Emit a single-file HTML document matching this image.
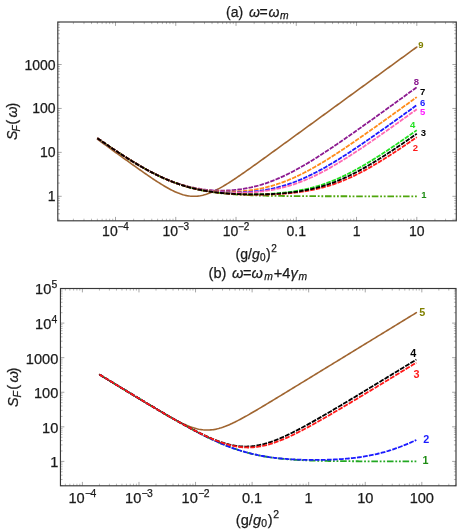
<!DOCTYPE html>
<html><head><meta charset="utf-8"><title>Noise spectrum</title>
<style>html,body{margin:0;padding:0;background:#fff}svg{display:block;will-change:transform}</style></head>
<body>
<svg width="464" height="532" viewBox="0 0 464 532" font-family='"Liberation Sans", Arial, Helvetica, sans-serif'>
<rect width="464" height="532" fill="#fff"/>
<path d="M97.36 139.13L98.70 140.11L100.03 141.08L101.37 142.05L102.71 143.03L104.04 144.00L105.38 144.97L106.72 145.94L108.05 146.91L109.39 147.89L110.73 148.86L112.06 149.83L113.40 150.80L114.74 151.77L116.07 152.74L117.41 153.71L118.75 154.67L120.08 155.64L121.42 156.61L122.75 157.58L124.09 158.54L125.43 159.51L126.76 160.47L128.10 161.43L129.44 162.39L130.77 163.35L132.11 164.31L133.45 165.27L134.78 166.22L136.12 167.17L137.46 168.12L138.79 169.07L140.13 170.01L141.47 170.96L142.80 171.89L144.14 172.83L145.48 173.76L146.81 174.68L148.15 175.60L149.49 176.52L150.82 177.42L152.16 178.33L153.50 179.22L154.83 180.10L156.17 180.98L157.51 181.85L158.84 182.70L160.18 183.54L161.52 184.37L162.85 185.19L164.19 185.99L165.52 186.77L166.86 187.54L168.20 188.28L169.53 189.01L170.87 189.71L172.21 190.38L173.54 191.03L174.88 191.65L176.22 192.24L177.55 192.80L178.89 193.32L180.23 193.81L181.56 194.25L182.90 194.66L184.24 195.03L185.57 195.35L186.91 195.63L188.25 195.86L189.58 196.04L190.92 196.18L192.26 196.26L193.59 196.30L194.93 196.29L196.27 196.22L197.60 196.11L198.94 195.95L200.28 195.74L201.61 195.48L202.95 195.18L204.29 194.84L205.62 194.45L206.96 194.02L208.30 193.55L209.63 193.04L210.97 192.50L212.30 191.93L213.64 191.32L214.98 190.68L216.31 190.02L217.65 189.33L218.99 188.62L220.32 187.88L221.66 187.13L223.00 186.35L224.33 185.56L225.67 184.75L227.01 183.93L228.34 183.09L229.68 182.24L231.02 181.38L232.35 180.51L233.69 179.63L235.03 178.74L236.36 177.84L237.70 176.93L239.04 176.02L240.37 175.11L241.71 174.18L243.05 173.26L244.38 172.32L245.72 171.39L247.06 170.45L248.39 169.50L249.73 168.56L251.07 167.61L252.40 166.66L253.74 165.71L255.08 164.75L256.41 163.79L257.75 162.83L259.08 161.87L260.42 160.91L261.76 159.95L263.09 158.98L264.43 158.02L265.77 157.05L267.10 156.09L268.44 155.12L269.78 154.15L271.11 153.18L272.45 152.21L273.79 151.24L275.12 150.27L276.46 149.30L277.80 148.33L279.13 147.36L280.47 146.39L281.81 145.42L283.14 144.44L284.48 143.47L285.82 142.50L287.15 141.53L288.49 140.55L289.83 139.58L291.16 138.61L292.50 137.63L293.84 136.66L295.17 135.69L296.51 134.71L297.85 133.74L299.18 132.77L300.52 131.79L301.86 130.82L303.19 129.85L304.53 128.87L305.86 127.90L307.20 126.92L308.54 125.95L309.87 124.98L311.21 124.00L312.55 123.03L313.88 122.05L315.22 121.08L316.56 120.10L317.89 119.13L319.23 118.16L320.57 117.18L321.90 116.21L323.24 115.23L324.58 114.26L325.91 113.28L327.25 112.31L328.59 111.34L329.92 110.36L331.26 109.39L332.60 108.41L333.93 107.44L335.27 106.46L336.61 105.49L337.94 104.52L339.28 103.54L340.62 102.57L341.95 101.59L343.29 100.62L344.63 99.64L345.96 98.67L347.30 97.70L348.63 96.72L349.97 95.75L351.31 94.77L352.64 93.80L353.98 92.82L355.32 91.85L356.65 90.88L357.99 89.90L359.33 88.93L360.66 87.95L362.00 86.98L363.34 86.00L364.67 85.03L366.01 84.05L367.35 83.08L368.68 82.11L370.02 81.13L371.36 80.16L372.69 79.18L374.03 78.21L375.37 77.23L376.70 76.26L378.04 75.29L379.38 74.31L380.71 73.34L382.05 72.36L383.39 71.39L384.72 70.41L386.06 69.44L387.40 68.46L388.73 67.49L390.07 66.52L391.41 65.54L392.74 64.57L394.08 63.59L395.41 62.62L396.75 61.64L398.09 60.67L399.42 59.70L400.76 58.72L402.10 57.75L403.43 56.77L404.77 55.80L406.11 54.82L407.44 53.85L408.78 52.87L410.12 51.90L411.45 50.93L412.79 49.95L414.13 48.98L415.46 48.00L416.80 47.03" fill="none" stroke="#a06530" stroke-width="1.6" stroke-linecap="round" stroke-linejoin="round"/>
<path d="M416.80 196.30L415.46 196.30L414.13 196.30L412.79 196.30L411.45 196.30L410.12 196.30L408.78 196.30L407.44 196.30L406.11 196.30L404.77 196.30L403.43 196.30L402.10 196.30L400.76 196.30L399.42 196.30L398.09 196.30L396.75 196.30L395.41 196.30L394.08 196.30L392.74 196.30L391.41 196.29L390.07 196.29L388.73 196.29L387.40 196.29L386.06 196.29L384.72 196.29L383.39 196.29L382.05 196.29L380.71 196.29L379.38 196.29L378.04 196.29L376.70 196.29L375.37 196.29L374.03 196.29L372.69 196.29L371.36 196.29L370.02 196.29L368.68 196.29L367.35 196.29L366.01 196.29L364.67 196.29L363.34 196.29L362.00 196.28L360.66 196.28L359.33 196.28L357.99 196.28L356.65 196.28L355.32 196.28L353.98 196.28L352.64 196.28L351.31 196.28L349.97 196.28L348.63 196.27L347.30 196.27L345.96 196.27L344.63 196.27L343.29 196.27L341.95 196.27L340.62 196.26L339.28 196.26L337.94 196.26L336.61 196.26L335.27 196.26L333.93 196.25L332.60 196.25L331.26 196.25L329.92 196.25L328.59 196.24L327.25 196.24L325.91 196.24L324.58 196.24L323.24 196.23L321.90 196.23L320.57 196.22L319.23 196.22L317.89 196.22L316.56 196.21L315.22 196.21L313.88 196.20L312.55 196.20L311.21 196.19L309.87 196.19L308.54 196.18L307.20 196.17L305.86 196.17L304.53 196.16L303.19 196.15L301.86 196.15L300.52 196.14L299.18 196.13L297.85 196.12L296.51 196.11L295.17 196.10L293.84 196.09L292.50 196.08L291.16 196.07L289.83 196.06L288.49 196.04L287.15 196.03L285.82 196.02L284.48 196.00L283.14 195.99L281.81 195.97L280.47 195.95L279.13 195.94L277.80 195.92L276.46 195.90L275.12 195.88L273.79 195.85L272.45 195.83L271.11 195.81L269.78 195.78L268.44 195.76L267.10 195.73L265.77 195.70L264.43 195.67L263.09 195.63L261.76 195.60L260.42 195.56L259.08 195.53L257.75 195.49L256.41 195.44L255.08 195.40L253.74 195.35L252.40 195.31L251.07 195.26L249.73 195.20L248.39 195.15L247.06 195.09L245.72 195.03L244.38 194.96L243.05 194.89L241.71 194.82L240.37 194.75L239.04 194.67L237.70 194.59L236.36 194.50L235.03 194.41L233.69 194.32L232.35 194.22L231.02 194.12L229.68 194.01L228.34 193.90L227.01 193.78L225.67 193.66L224.33 193.53L223.00 193.39L221.66 193.25L220.32 193.11L218.99 192.95L217.65 192.79L216.31 192.63L214.98 192.45L213.64 192.27L212.30 192.08L210.97 191.88L209.63 191.68L208.30 191.46L206.96 191.24L205.62 191.01L204.29 190.77L202.95 190.52L201.61 190.26L200.28 189.99L198.94 189.71L197.60 189.42L196.27 189.12L194.93 188.81L193.59 188.49L192.26 188.16L190.92 187.81L189.58 187.46L188.25 187.09L186.91 186.71L185.57 186.32L184.24 185.92L182.90 185.50L181.56 185.07L180.23 184.63L178.89 184.18L177.55 183.72L176.22 183.24L174.88 182.75L173.54 182.25L172.21 181.74L170.87 181.21L169.53 180.67L168.20 180.12L166.86 179.56L165.52 178.98L164.19 178.40L162.85 177.80L161.52 177.19L160.18 176.56L158.84 175.93L157.51 175.28L156.17 174.63L154.83 173.96L153.50 173.28L152.16 172.60L150.82 171.90L149.49 171.19L148.15 170.47L146.81 169.74L145.48 169.01L144.14 168.26L142.80 167.51L141.47 166.74L140.13 165.97L138.79 165.19L137.46 164.41L136.12 163.61L134.78 162.81L133.45 162.00L132.11 161.18L130.77 160.36L129.44 159.53L128.10 158.69L126.76 157.85L125.43 157.01L124.09 156.15L122.75 155.29L121.42 154.43L120.08 153.56L118.75 152.69L117.41 151.81L116.07 150.93L114.74 150.04L113.40 149.15L112.06 148.26L110.73 147.36L109.39 146.46L108.05 145.56L106.72 144.65L105.38 143.74L104.04 142.82L102.71 141.91L101.37 140.99L100.03 140.07L98.70 139.14L97.36 138.21" fill="none" stroke="#4fa60c" stroke-width="1.8" stroke-dasharray="1.8 1.8 1.8 1.8 6.6 1.8" stroke-linecap="butt" stroke-linejoin="round"/>
<path d="M97.36 138.21L98.70 139.14L100.03 140.06L101.37 140.99L102.71 141.91L104.04 142.82L105.38 143.74L106.72 144.65L108.05 145.55L109.39 146.46L110.73 147.36L112.06 148.26L113.40 149.15L114.74 150.04L116.07 150.92L117.41 151.81L118.75 152.68L120.08 153.56L121.42 154.42L122.75 155.29L124.09 156.14L125.43 156.99L126.76 157.84L128.10 158.68L129.44 159.52L130.77 160.34L132.11 161.16L133.45 161.98L134.78 162.79L136.12 163.59L137.46 164.38L138.79 165.17L140.13 165.94L141.47 166.71L142.80 167.47L144.14 168.22L145.48 168.96L146.81 169.70L148.15 170.42L149.49 171.13L150.82 171.84L152.16 172.53L153.50 173.21L154.83 173.88L156.17 174.54L157.51 175.19L158.84 175.83L160.18 176.45L161.52 177.06L162.85 177.66L164.19 178.25L165.52 178.83L166.86 179.39L168.20 179.94L169.53 180.47L170.87 180.99L172.21 181.50L173.54 182.00L174.88 182.48L176.22 182.95L177.55 183.40L178.89 183.84L180.23 184.27L181.56 184.68L182.90 185.08L184.24 185.46L185.57 185.83L186.91 186.18L188.25 186.52L189.58 186.85L190.92 187.16L192.26 187.46L193.59 187.75L194.93 188.02L196.27 188.27L197.60 188.52L198.94 188.74L200.28 188.96L201.61 189.16L202.95 189.35L204.29 189.52L205.62 189.69L206.96 189.83L208.30 189.97L209.63 190.09L210.97 190.20L212.30 190.30L213.64 190.38L214.98 190.45L216.31 190.50L217.65 190.55L218.99 190.58L220.32 190.60L221.66 190.60L223.00 190.59L224.33 190.57L225.67 190.54L227.01 190.49L228.34 190.43L229.68 190.36L231.02 190.28L232.35 190.18L233.69 190.07L235.03 189.94L236.36 189.80L237.70 189.65L239.04 189.49L240.37 189.31L241.71 189.12L243.05 188.91L244.38 188.70L245.72 188.46L247.06 188.22L248.39 187.96L249.73 187.68L251.07 187.40L252.40 187.09L253.74 186.78L255.08 186.45L256.41 186.11L257.75 185.75L259.08 185.38L260.42 184.99L261.76 184.59L263.09 184.17L264.43 183.75L265.77 183.30L267.10 182.85L268.44 182.38L269.78 181.89L271.11 181.39L272.45 180.88L273.79 180.36L275.12 179.82L276.46 179.27L277.80 178.70L279.13 178.12L280.47 177.53L281.81 176.93L283.14 176.31L284.48 175.69L285.82 175.05L287.15 174.40L288.49 173.73L289.83 173.06L291.16 172.38L292.50 171.68L293.84 170.98L295.17 170.26L296.51 169.54L297.85 168.80L299.18 168.06L300.52 167.30L301.86 166.54L303.19 165.77L304.53 164.99L305.86 164.21L307.20 163.41L308.54 162.61L309.87 161.80L311.21 160.99L312.55 160.16L313.88 159.33L315.22 158.50L316.56 157.66L317.89 156.81L319.23 155.95L320.57 155.10L321.90 154.23L323.24 153.36L324.58 152.49L325.91 151.61L327.25 150.73L328.59 149.84L329.92 148.95L331.26 148.06L332.60 147.16L333.93 146.26L335.27 145.35L336.61 144.45L337.94 143.54L339.28 142.62L340.62 141.70L341.95 140.78L343.29 139.86L344.63 138.94L345.96 138.01L347.30 137.08L348.63 136.15L349.97 135.22L351.31 134.28L352.64 133.34L353.98 132.40L355.32 131.46L356.65 130.52L357.99 129.58L359.33 128.63L360.66 127.68L362.00 126.73L363.34 125.79L364.67 124.83L366.01 123.88L367.35 122.93L368.68 121.98L370.02 121.02L371.36 120.06L372.69 119.11L374.03 118.15L375.37 117.19L376.70 116.23L378.04 115.27L379.38 114.31L380.71 113.35L382.05 112.39L383.39 111.42L384.72 110.46L386.06 109.50L387.40 108.53L388.73 107.57L390.07 106.60L391.41 105.64L392.74 104.67L394.08 103.71L395.41 102.74L396.75 101.77L398.09 100.80L399.42 99.84L400.76 98.87L402.10 97.90L403.43 96.93L404.77 95.96L406.11 94.99L407.44 94.02L408.78 93.05L410.12 92.08L411.45 91.11L412.79 90.14L414.13 89.17L415.46 88.20L416.80 87.23" fill="none" stroke="#8c1a90" stroke-width="1.8" stroke-dasharray="4.55 1.115" stroke-linecap="butt" stroke-linejoin="round"/>
<path d="M97.36 138.21L98.70 139.14L100.03 140.07L101.37 140.99L102.71 141.91L104.04 142.82L105.38 143.74L106.72 144.65L108.05 145.55L109.39 146.46L110.73 147.36L112.06 148.26L113.40 149.15L114.74 150.04L116.07 150.93L117.41 151.81L118.75 152.69L120.08 153.56L121.42 154.43L122.75 155.29L124.09 156.15L125.43 157.00L126.76 157.85L128.10 158.69L129.44 159.52L130.77 160.35L132.11 161.17L133.45 161.99L134.78 162.80L136.12 163.60L137.46 164.39L138.79 165.18L140.13 165.95L141.47 166.72L142.80 167.49L144.14 168.24L145.48 168.98L146.81 169.72L148.15 170.44L149.49 171.16L150.82 171.86L152.16 172.56L153.50 173.24L154.83 173.91L156.17 174.58L157.51 175.23L158.84 175.87L160.18 176.50L161.52 177.11L162.85 177.72L164.19 178.31L165.52 178.89L166.86 179.46L168.20 180.01L169.53 180.55L170.87 181.08L172.21 181.60L173.54 182.10L174.88 182.59L176.22 183.07L177.55 183.53L178.89 183.98L180.23 184.41L181.56 184.84L182.90 185.25L184.24 185.64L185.57 186.03L186.91 186.39L188.25 186.75L189.58 187.09L190.92 187.42L192.26 187.74L193.59 188.04L194.93 188.33L196.27 188.61L197.60 188.88L198.94 189.13L200.28 189.37L201.61 189.60L202.95 189.82L204.29 190.02L205.62 190.21L206.96 190.39L208.30 190.56L209.63 190.72L210.97 190.87L212.30 191.00L213.64 191.12L214.98 191.24L216.31 191.34L217.65 191.43L218.99 191.51L220.32 191.58L221.66 191.63L223.00 191.68L224.33 191.72L225.67 191.74L227.01 191.76L228.34 191.77L229.68 191.76L231.02 191.74L232.35 191.72L233.69 191.68L235.03 191.63L236.36 191.57L237.70 191.51L239.04 191.43L240.37 191.33L241.71 191.23L243.05 191.12L244.38 191.00L245.72 190.86L247.06 190.72L248.39 190.56L249.73 190.39L251.07 190.21L252.40 190.02L253.74 189.81L255.08 189.60L256.41 189.37L257.75 189.13L259.08 188.87L260.42 188.61L261.76 188.33L263.09 188.04L264.43 187.73L265.77 187.42L267.10 187.09L268.44 186.74L269.78 186.39L271.11 186.02L272.45 185.63L273.79 185.24L275.12 184.83L276.46 184.41L277.80 183.97L279.13 183.52L280.47 183.06L281.81 182.58L283.14 182.09L284.48 181.59L285.82 181.07L287.15 180.54L288.49 180.00L289.83 179.44L291.16 178.88L292.50 178.30L293.84 177.70L295.17 177.10L296.51 176.48L297.85 175.85L299.18 175.21L300.52 174.56L301.86 173.90L303.19 173.22L304.53 172.54L305.86 171.85L307.20 171.14L308.54 170.42L309.87 169.70L311.21 168.97L312.55 168.22L313.88 167.47L315.22 166.71L316.56 165.94L317.89 165.16L319.23 164.37L320.57 163.58L321.90 162.78L323.24 161.97L324.58 161.15L325.91 160.33L327.25 159.50L328.59 158.67L329.92 157.83L331.26 156.98L332.60 156.13L333.93 155.27L335.27 154.41L336.61 153.54L337.94 152.67L339.28 151.79L340.62 150.91L341.95 150.02L343.29 149.13L344.63 148.24L345.96 147.34L347.30 146.44L348.63 145.53L349.97 144.63L351.31 143.72L352.64 142.80L353.98 141.89L355.32 140.97L356.65 140.04L357.99 139.12L359.33 138.19L360.66 137.26L362.00 136.33L363.34 135.40L364.67 134.46L366.01 133.53L367.35 132.59L368.68 131.65L370.02 130.71L371.36 129.76L372.69 128.82L374.03 127.87L375.37 126.92L376.70 125.97L378.04 125.02L379.38 124.07L380.71 123.12L382.05 122.16L383.39 121.21L384.72 120.25L386.06 119.30L387.40 118.34L388.73 117.38L390.07 116.42L391.41 115.46L392.74 114.50L394.08 113.54L395.41 112.58L396.75 111.61L398.09 110.65L399.42 109.69L400.76 108.72L402.10 107.76L403.43 106.79L404.77 105.83L406.11 104.86L407.44 103.90L408.78 102.93L410.12 101.96L411.45 100.99L412.79 100.03L414.13 99.06L415.46 98.09L416.80 97.12" fill="none" stroke="#ff8c1a" stroke-width="1.8" stroke-dasharray="4.55 1.115" stroke-linecap="butt" stroke-linejoin="round"/>
<path d="M97.36 138.21L98.70 139.14L100.03 140.07L101.37 140.99L102.71 141.91L104.04 142.82L105.38 143.74L106.72 144.65L108.05 145.56L109.39 146.46L110.73 147.36L112.06 148.26L113.40 149.15L114.74 150.04L116.07 150.93L117.41 151.81L118.75 152.69L120.08 153.56L121.42 154.43L122.75 155.29L124.09 156.15L125.43 157.00L126.76 157.85L128.10 158.69L129.44 159.52L130.77 160.35L132.11 161.18L133.45 161.99L134.78 162.80L136.12 163.60L137.46 164.40L138.79 165.18L140.13 165.96L141.47 166.73L142.80 167.49L144.14 168.25L145.48 168.99L146.81 169.73L148.15 170.45L149.49 171.17L150.82 171.87L152.16 172.57L153.50 173.26L154.83 173.93L156.17 174.59L157.51 175.25L158.84 175.89L160.18 176.52L161.52 177.14L162.85 177.74L164.19 178.34L165.52 178.92L166.86 179.49L168.20 180.05L169.53 180.59L170.87 181.13L172.21 181.65L173.54 182.15L174.88 182.65L176.22 183.13L177.55 183.59L178.89 184.05L180.23 184.49L181.56 184.92L182.90 185.33L184.24 185.74L185.57 186.13L186.91 186.50L188.25 186.87L189.58 187.22L190.92 187.56L192.26 187.88L193.59 188.20L194.93 188.50L196.27 188.79L197.60 189.06L198.94 189.33L200.28 189.58L201.61 189.83L202.95 190.06L204.29 190.28L205.62 190.48L206.96 190.68L208.30 190.87L209.63 191.04L210.97 191.21L212.30 191.37L213.64 191.51L214.98 191.65L216.31 191.77L217.65 191.89L218.99 191.99L220.32 192.09L221.66 192.18L223.00 192.25L224.33 192.32L225.67 192.38L227.01 192.43L228.34 192.47L229.68 192.51L231.02 192.53L232.35 192.54L233.69 192.55L235.03 192.55L236.36 192.53L237.70 192.51L239.04 192.48L240.37 192.44L241.71 192.40L243.05 192.34L244.38 192.27L245.72 192.20L247.06 192.11L248.39 192.02L249.73 191.91L251.07 191.80L252.40 191.68L253.74 191.54L255.08 191.40L256.41 191.25L257.75 191.09L259.08 190.91L260.42 190.73L261.76 190.53L263.09 190.33L264.43 190.11L265.77 189.88L267.10 189.64L268.44 189.39L269.78 189.13L271.11 188.86L272.45 188.57L273.79 188.27L275.12 187.96L276.46 187.64L277.80 187.30L279.13 186.95L280.47 186.59L281.81 186.22L283.14 185.83L284.48 185.43L285.82 185.02L287.15 184.60L288.49 184.16L289.83 183.71L291.16 183.24L292.50 182.77L293.84 182.27L295.17 181.77L296.51 181.26L297.85 180.73L299.18 180.18L300.52 179.63L301.86 179.06L303.19 178.48L304.53 177.89L305.86 177.29L307.20 176.67L308.54 176.04L309.87 175.41L311.21 174.76L312.55 174.09L313.88 173.42L315.22 172.74L316.56 172.05L317.89 171.34L319.23 170.63L320.57 169.91L321.90 169.17L323.24 168.43L324.58 167.68L325.91 166.92L327.25 166.15L328.59 165.37L329.92 164.59L331.26 163.80L332.60 163.00L333.93 162.19L335.27 161.38L336.61 160.56L337.94 159.73L339.28 158.89L340.62 158.06L341.95 157.21L343.29 156.36L344.63 155.50L345.96 154.64L347.30 153.77L348.63 152.90L349.97 152.03L351.31 151.15L352.64 150.26L353.98 149.37L355.32 148.48L356.65 147.58L357.99 146.68L359.33 145.78L360.66 144.87L362.00 143.96L363.34 143.05L364.67 142.13L366.01 141.21L367.35 140.29L368.68 139.37L370.02 138.44L371.36 137.51L372.69 136.58L374.03 135.65L375.37 134.72L376.70 133.78L378.04 132.84L379.38 131.90L380.71 130.96L382.05 130.02L383.39 129.07L384.72 128.12L386.06 127.18L387.40 126.23L388.73 125.28L390.07 124.33L391.41 123.37L392.74 122.42L394.08 121.47L395.41 120.51L396.75 119.55L398.09 118.60L399.42 117.64L400.76 116.68L402.10 115.72L403.43 114.76L404.77 113.80L406.11 112.84L407.44 111.87L408.78 110.91L410.12 109.95L411.45 108.98L412.79 108.02L414.13 107.05L415.46 106.09L416.80 105.12" fill="none" stroke="#1a1aff" stroke-width="1.8" stroke-dasharray="4.55 1.115" stroke-linecap="butt" stroke-linejoin="round"/>
<path d="M97.36 138.21L98.70 139.14L100.03 140.07L101.37 140.99L102.71 141.91L104.04 142.82L105.38 143.74L106.72 144.65L108.05 145.56L109.39 146.46L110.73 147.36L112.06 148.26L113.40 149.15L114.74 150.04L116.07 150.93L117.41 151.81L118.75 152.69L120.08 153.56L121.42 154.43L122.75 155.29L124.09 156.15L125.43 157.00L126.76 157.85L128.10 158.69L129.44 159.53L130.77 160.35L132.11 161.18L133.45 161.99L134.78 162.80L136.12 163.60L137.46 164.40L138.79 165.18L140.13 165.96L141.47 166.73L142.80 167.50L144.14 168.25L145.48 168.99L146.81 169.73L148.15 170.46L149.49 171.17L150.82 171.88L152.16 172.57L153.50 173.26L154.83 173.94L156.17 174.60L157.51 175.25L158.84 175.90L160.18 176.53L161.52 177.15L162.85 177.75L164.19 178.35L165.52 178.93L166.86 179.50L168.20 180.06L169.53 180.61L170.87 181.14L172.21 181.66L173.54 182.17L174.88 182.67L176.22 183.15L177.55 183.62L178.89 184.07L180.23 184.52L181.56 184.95L182.90 185.37L184.24 185.77L185.57 186.16L186.91 186.54L188.25 186.91L189.58 187.26L190.92 187.61L192.26 187.94L193.59 188.25L194.93 188.56L196.27 188.85L197.60 189.13L198.94 189.40L200.28 189.66L201.61 189.91L202.95 190.15L204.29 190.37L205.62 190.59L206.96 190.79L208.30 190.98L209.63 191.17L210.97 191.34L212.30 191.50L213.64 191.66L214.98 191.80L216.31 191.94L217.65 192.06L218.99 192.18L220.32 192.28L221.66 192.38L223.00 192.47L224.33 192.55L225.67 192.62L227.01 192.69L228.34 192.74L229.68 192.79L231.02 192.83L232.35 192.86L233.69 192.88L235.03 192.90L236.36 192.90L237.70 192.90L239.04 192.89L240.37 192.87L241.71 192.84L243.05 192.81L244.38 192.77L245.72 192.72L247.06 192.66L248.39 192.59L249.73 192.51L251.07 192.43L252.40 192.33L253.74 192.23L255.08 192.12L256.41 192.00L257.75 191.87L259.08 191.73L260.42 191.58L261.76 191.42L263.09 191.25L264.43 191.07L265.77 190.89L267.10 190.69L268.44 190.48L269.78 190.26L271.11 190.03L272.45 189.78L273.79 189.53L275.12 189.27L276.46 188.99L277.80 188.70L279.13 188.40L280.47 188.09L281.81 187.77L283.14 187.43L284.48 187.09L285.82 186.72L287.15 186.35L288.49 185.97L289.83 185.57L291.16 185.16L292.50 184.73L293.84 184.29L295.17 183.84L296.51 183.38L297.85 182.91L299.18 182.42L300.52 181.91L301.86 181.40L303.19 180.87L304.53 180.33L305.86 179.78L307.20 179.22L308.54 178.64L309.87 178.05L311.21 177.45L312.55 176.83L313.88 176.21L315.22 175.57L316.56 174.92L317.89 174.26L319.23 173.59L320.57 172.91L321.90 172.22L323.24 171.52L324.58 170.81L325.91 170.09L327.25 169.36L328.59 168.62L329.92 167.87L331.26 167.11L332.60 166.34L333.93 165.57L335.27 164.78L336.61 163.99L337.94 163.20L339.28 162.39L340.62 161.58L341.95 160.76L343.29 159.93L344.63 159.10L345.96 158.26L347.30 157.42L348.63 156.57L349.97 155.71L351.31 154.85L352.64 153.99L353.98 153.12L355.32 152.24L356.65 151.36L357.99 150.48L359.33 149.59L360.66 148.70L362.00 147.80L363.34 146.90L364.67 146.00L366.01 145.09L367.35 144.18L368.68 143.27L370.02 142.36L371.36 141.44L372.69 140.52L374.03 139.60L375.37 138.67L376.70 137.74L378.04 136.81L379.38 135.88L380.71 134.95L382.05 134.01L383.39 133.07L384.72 132.13L386.06 131.19L387.40 130.25L388.73 129.30L390.07 128.36L391.41 127.41L392.74 126.46L394.08 125.51L395.41 124.56L396.75 123.61L398.09 122.65L399.42 121.70L400.76 120.74L402.10 119.79L403.43 118.83L404.77 117.87L406.11 116.91L407.44 115.95L408.78 114.99L410.12 114.03L411.45 113.07L412.79 112.11L414.13 111.15L415.46 110.18L416.80 109.22" fill="none" stroke="#ff69b4" stroke-width="1.8" stroke-dasharray="4.55 1.115" stroke-linecap="butt" stroke-linejoin="round"/>
<path d="M97.36 138.21L98.70 139.14L100.03 140.07L101.37 140.99L102.71 141.91L104.04 142.82L105.38 143.74L106.72 144.65L108.05 145.56L109.39 146.46L110.73 147.36L112.06 148.26L113.40 149.15L114.74 150.04L116.07 150.93L117.41 151.81L118.75 152.69L120.08 153.56L121.42 154.43L122.75 155.29L124.09 156.15L125.43 157.00L126.76 157.85L128.10 158.69L129.44 159.53L130.77 160.36L132.11 161.18L133.45 162.00L134.78 162.81L136.12 163.61L137.46 164.40L138.79 165.19L140.13 165.97L141.47 166.74L142.80 167.50L144.14 168.26L145.48 169.00L146.81 169.74L148.15 170.47L149.49 171.18L150.82 171.89L152.16 172.59L153.50 173.28L154.83 173.95L156.17 174.62L157.51 175.27L158.84 175.92L160.18 176.55L161.52 177.17L162.85 177.78L164.19 178.38L165.52 178.97L166.86 179.54L168.20 180.10L169.53 180.65L170.87 181.19L172.21 181.71L173.54 182.23L174.88 182.72L176.22 183.21L177.55 183.69L178.89 184.15L180.23 184.60L181.56 185.03L182.90 185.46L184.24 185.87L185.57 186.27L186.91 186.66L188.25 187.03L189.58 187.39L190.92 187.74L192.26 188.08L193.59 188.41L194.93 188.73L196.27 189.03L197.60 189.33L198.94 189.61L200.28 189.88L201.61 190.15L202.95 190.40L204.29 190.64L205.62 190.87L206.96 191.09L208.30 191.31L209.63 191.51L210.97 191.70L212.30 191.89L213.64 192.07L214.98 192.24L216.31 192.40L217.65 192.55L218.99 192.70L220.32 192.83L221.66 192.97L223.00 193.09L224.33 193.21L225.67 193.31L227.01 193.42L228.34 193.51L229.68 193.60L231.02 193.69L232.35 193.77L233.69 193.84L235.03 193.91L236.36 193.97L237.70 194.02L239.04 194.07L240.37 194.12L241.71 194.16L243.05 194.19L244.38 194.22L245.72 194.24L247.06 194.26L248.39 194.27L249.73 194.28L251.07 194.29L252.40 194.28L253.74 194.28L255.08 194.27L256.41 194.25L257.75 194.23L259.08 194.20L260.42 194.17L261.76 194.13L263.09 194.09L264.43 194.04L265.77 193.99L267.10 193.93L268.44 193.87L269.78 193.80L271.11 193.72L272.45 193.64L273.79 193.55L275.12 193.46L276.46 193.36L277.80 193.25L279.13 193.14L280.47 193.02L281.81 192.89L283.14 192.76L284.48 192.61L285.82 192.46L287.15 192.31L288.49 192.14L289.83 191.97L291.16 191.78L292.50 191.59L293.84 191.39L295.17 191.18L296.51 190.97L297.85 190.74L299.18 190.50L300.52 190.25L301.86 189.99L303.19 189.73L304.53 189.45L305.86 189.16L307.20 188.86L308.54 188.55L309.87 188.22L311.21 187.89L312.55 187.54L313.88 187.18L315.22 186.81L316.56 186.43L317.89 186.04L319.23 185.63L320.57 185.21L321.90 184.78L323.24 184.34L324.58 183.88L325.91 183.41L327.25 182.93L328.59 182.44L329.92 181.93L331.26 181.41L332.60 180.88L333.93 180.33L335.27 179.78L336.61 179.21L337.94 178.63L339.28 178.03L340.62 177.43L341.95 176.81L343.29 176.19L344.63 175.55L345.96 174.90L347.30 174.23L348.63 173.56L349.97 172.88L351.31 172.18L352.64 171.48L353.98 170.77L355.32 170.05L356.65 169.31L357.99 168.57L359.33 167.82L360.66 167.06L362.00 166.29L363.34 165.52L364.67 164.73L366.01 163.94L367.35 163.14L368.68 162.34L370.02 161.52L371.36 160.70L372.69 159.88L374.03 159.04L375.37 158.20L376.70 157.36L378.04 156.51L379.38 155.65L380.71 154.79L382.05 153.93L383.39 153.06L384.72 152.18L386.06 151.30L387.40 150.42L388.73 149.53L390.07 148.63L391.41 147.74L392.74 146.84L394.08 145.94L395.41 145.03L396.75 144.12L398.09 143.21L399.42 142.29L400.76 141.37L402.10 140.45L403.43 139.53L404.77 138.60L406.11 137.68L407.44 136.74L408.78 135.81L410.12 134.88L411.45 133.94L412.79 133.00L414.13 132.06L415.46 131.12L416.80 130.18" fill="none" stroke="#22e022" stroke-width="1.8" stroke-dasharray="4.55 1.115" stroke-linecap="butt" stroke-linejoin="round"/>
<path d="M97.36 138.21L98.70 139.14L100.03 140.07L101.37 140.99L102.71 141.91L104.04 142.82L105.38 143.74L106.72 144.65L108.05 145.56L109.39 146.46L110.73 147.36L112.06 148.26L113.40 149.15L114.74 150.04L116.07 150.93L117.41 151.81L118.75 152.69L120.08 153.56L121.42 154.43L122.75 155.29L124.09 156.15L125.43 157.00L126.76 157.85L128.10 158.69L129.44 159.53L130.77 160.36L132.11 161.18L133.45 162.00L134.78 162.81L136.12 163.61L137.46 164.40L138.79 165.19L140.13 165.97L141.47 166.74L142.80 167.50L144.14 168.26L145.48 169.00L146.81 169.74L148.15 170.47L149.49 171.19L150.82 171.89L152.16 172.59L153.50 173.28L154.83 173.96L156.17 174.62L157.51 175.28L158.84 175.92L160.18 176.56L161.52 177.18L162.85 177.79L164.19 178.39L165.52 178.97L166.86 179.55L168.20 180.11L169.53 180.66L170.87 181.20L172.21 181.72L173.54 182.23L174.88 182.73L176.22 183.22L177.55 183.70L178.89 184.16L180.23 184.61L181.56 185.05L182.90 185.47L184.24 185.88L185.57 186.28L186.91 186.67L188.25 187.05L189.58 187.41L190.92 187.77L192.26 188.11L193.59 188.44L194.93 188.75L196.27 189.06L197.60 189.36L198.94 189.64L200.28 189.92L201.61 190.18L202.95 190.44L204.29 190.68L205.62 190.91L206.96 191.14L208.30 191.36L209.63 191.56L210.97 191.76L212.30 191.95L213.64 192.13L214.98 192.30L216.31 192.47L217.65 192.63L218.99 192.78L220.32 192.92L221.66 193.06L223.00 193.18L224.33 193.31L225.67 193.42L227.01 193.53L228.34 193.64L229.68 193.73L231.02 193.82L232.35 193.91L233.69 193.99L235.03 194.07L236.36 194.13L237.70 194.20L239.04 194.26L240.37 194.31L241.71 194.36L243.05 194.41L244.38 194.45L245.72 194.49L247.06 194.52L248.39 194.55L249.73 194.57L251.07 194.59L252.40 194.60L253.74 194.61L255.08 194.62L256.41 194.62L257.75 194.62L259.08 194.61L260.42 194.60L261.76 194.58L263.09 194.57L264.43 194.54L265.77 194.51L267.10 194.48L268.44 194.44L269.78 194.40L271.11 194.36L272.45 194.31L273.79 194.25L275.12 194.19L276.46 194.13L277.80 194.05L279.13 193.98L280.47 193.90L281.81 193.81L283.14 193.72L284.48 193.62L285.82 193.52L287.15 193.41L288.49 193.29L289.83 193.17L291.16 193.04L292.50 192.90L293.84 192.76L295.17 192.61L296.51 192.45L297.85 192.28L299.18 192.11L300.52 191.92L301.86 191.73L303.19 191.53L304.53 191.33L305.86 191.11L307.20 190.88L308.54 190.65L309.87 190.40L311.21 190.15L312.55 189.88L313.88 189.60L315.22 189.32L316.56 189.02L317.89 188.71L319.23 188.39L320.57 188.06L321.90 187.72L323.24 187.36L324.58 187.00L325.91 186.62L327.25 186.23L328.59 185.83L329.92 185.41L331.26 184.99L332.60 184.55L333.93 184.09L335.27 183.63L336.61 183.15L337.94 182.66L339.28 182.16L340.62 181.65L341.95 181.12L343.29 180.58L344.63 180.03L345.96 179.47L347.30 178.89L348.63 178.30L349.97 177.70L351.31 177.09L352.64 176.47L353.98 175.83L355.32 175.19L356.65 174.53L357.99 173.86L359.33 173.18L360.66 172.49L362.00 171.79L363.34 171.09L364.67 170.37L366.01 169.64L367.35 168.90L368.68 168.15L370.02 167.40L371.36 166.63L372.69 165.86L374.03 165.08L375.37 164.29L376.70 163.50L378.04 162.69L379.38 161.88L380.71 161.07L382.05 160.24L383.39 159.41L384.72 158.58L386.06 157.73L387.40 156.88L388.73 156.03L390.07 155.17L391.41 154.31L392.74 153.44L394.08 152.57L395.41 151.69L396.75 150.81L398.09 149.92L399.42 149.03L400.76 148.13L402.10 147.24L403.43 146.33L404.77 145.43L406.11 144.52L407.44 143.61L408.78 142.70L410.12 141.78L411.45 140.86L412.79 139.94L414.13 139.01L415.46 138.08L416.80 137.15" fill="none" stroke="#ff1a1a" stroke-width="1.8" stroke-dasharray="4.55 1.115" stroke-linecap="butt" stroke-linejoin="round"/>
<path d="M97.36 138.21L98.70 139.14L100.03 140.07L101.37 140.99L102.71 141.91L104.04 142.82L105.38 143.74L106.72 144.65L108.05 145.56L109.39 146.46L110.73 147.36L112.06 148.26L113.40 149.15L114.74 150.04L116.07 150.93L117.41 151.81L118.75 152.69L120.08 153.56L121.42 154.43L122.75 155.29L124.09 156.15L125.43 157.00L126.76 157.85L128.10 158.69L129.44 159.53L130.77 160.36L132.11 161.18L133.45 162.00L134.78 162.81L136.12 163.61L137.46 164.40L138.79 165.19L140.13 165.97L141.47 166.74L142.80 167.50L144.14 168.26L145.48 169.00L146.81 169.74L148.15 170.47L149.49 171.18L150.82 171.89L152.16 172.59L153.50 173.28L154.83 173.95L156.17 174.62L157.51 175.28L158.84 175.92L160.18 176.55L161.52 177.18L162.85 177.78L164.19 178.38L165.52 178.97L166.86 179.54L168.20 180.11L169.53 180.66L170.87 181.19L172.21 181.72L173.54 182.23L174.88 182.73L176.22 183.22L177.55 183.69L178.89 184.15L180.23 184.60L181.56 185.04L182.90 185.47L184.24 185.88L185.57 186.28L186.91 186.67L188.25 187.04L189.58 187.40L190.92 187.76L192.26 188.10L193.59 188.43L194.93 188.74L196.27 189.05L197.60 189.34L198.94 189.63L200.28 189.90L201.61 190.17L202.95 190.42L204.29 190.66L205.62 190.90L206.96 191.12L208.30 191.33L209.63 191.54L210.97 191.74L212.30 191.92L213.64 192.10L214.98 192.27L216.31 192.44L217.65 192.59L218.99 192.74L220.32 192.88L221.66 193.02L223.00 193.14L224.33 193.26L225.67 193.37L227.01 193.48L228.34 193.58L229.68 193.68L231.02 193.76L232.35 193.85L233.69 193.92L235.03 193.99L236.36 194.06L237.70 194.12L239.04 194.17L240.37 194.22L241.71 194.27L243.05 194.31L244.38 194.35L245.72 194.38L247.06 194.40L248.39 194.42L249.73 194.44L251.07 194.45L252.40 194.46L253.74 194.46L255.08 194.46L256.41 194.45L257.75 194.44L259.08 194.43L260.42 194.41L261.76 194.38L263.09 194.35L264.43 194.32L265.77 194.28L267.10 194.23L268.44 194.18L269.78 194.13L271.11 194.07L272.45 194.00L273.79 193.93L275.12 193.86L276.46 193.78L277.80 193.69L279.13 193.60L280.47 193.50L281.81 193.39L283.14 193.28L284.48 193.16L285.82 193.04L287.15 192.90L288.49 192.77L289.83 192.62L291.16 192.46L292.50 192.30L293.84 192.13L295.17 191.95L296.51 191.77L297.85 191.57L299.18 191.37L300.52 191.16L301.86 190.93L303.19 190.70L304.53 190.46L305.86 190.21L307.20 189.95L308.54 189.67L309.87 189.39L311.21 189.10L312.55 188.79L313.88 188.48L315.22 188.15L316.56 187.81L317.89 187.46L319.23 187.10L320.57 186.73L321.90 186.34L323.24 185.94L324.58 185.53L325.91 185.11L327.25 184.68L328.59 184.23L329.92 183.77L331.26 183.30L332.60 182.81L333.93 182.31L335.27 181.80L336.61 181.28L337.94 180.75L339.28 180.20L340.62 179.64L341.95 179.07L343.29 178.48L344.63 177.89L345.96 177.28L347.30 176.66L348.63 176.03L349.97 175.38L351.31 174.73L352.64 174.07L353.98 173.39L355.32 172.71L356.65 172.01L357.99 171.30L359.33 170.59L360.66 169.86L362.00 169.13L363.34 168.38L364.67 167.63L366.01 166.87L367.35 166.10L368.68 165.32L370.02 164.53L371.36 163.74L372.69 162.94L374.03 162.13L375.37 161.32L376.70 160.50L378.04 159.67L379.38 158.83L380.71 157.99L382.05 157.15L383.39 156.29L384.72 155.44L386.06 154.57L387.40 153.71L388.73 152.83L390.07 151.96L391.41 151.08L392.74 150.19L394.08 149.30L395.41 148.41L396.75 147.51L398.09 146.61L399.42 145.71L400.76 144.80L402.10 143.89L403.43 142.98L404.77 142.06L406.11 141.14L407.44 140.22L408.78 139.30L410.12 138.37L411.45 137.44L412.79 136.51L414.13 135.58L415.46 134.64L416.80 133.70" fill="none" stroke="#000000" stroke-width="1.8" stroke-dasharray="4.55 1.115" stroke-linecap="butt" stroke-linejoin="round"/>
<path d="M73.38 220.80v-2.1M73.38 22.00v2.1M83.99 220.80v-2.1M83.99 22.00v2.1M91.52 220.80v-2.1M91.52 22.00v2.1M97.36 220.80v-2.1M97.36 22.00v2.1M102.13 220.80v-2.1M102.13 22.00v2.1M106.17 220.80v-2.1M106.17 22.00v2.1M109.66 220.80v-2.1M109.66 22.00v2.1M112.74 220.80v-2.1M112.74 22.00v2.1M133.64 220.80v-2.1M133.64 22.00v2.1M144.25 220.80v-2.1M144.25 22.00v2.1M151.78 220.80v-2.1M151.78 22.00v2.1M157.62 220.80v-2.1M157.62 22.00v2.1M162.39 220.80v-2.1M162.39 22.00v2.1M166.43 220.80v-2.1M166.43 22.00v2.1M169.92 220.80v-2.1M169.92 22.00v2.1M173.00 220.80v-2.1M173.00 22.00v2.1M193.90 220.80v-2.1M193.90 22.00v2.1M204.51 220.80v-2.1M204.51 22.00v2.1M212.04 220.80v-2.1M212.04 22.00v2.1M217.88 220.80v-2.1M217.88 22.00v2.1M222.65 220.80v-2.1M222.65 22.00v2.1M226.69 220.80v-2.1M226.69 22.00v2.1M230.18 220.80v-2.1M230.18 22.00v2.1M233.26 220.80v-2.1M233.26 22.00v2.1M254.16 220.80v-2.1M254.16 22.00v2.1M264.77 220.80v-2.1M264.77 22.00v2.1M272.30 220.80v-2.1M272.30 22.00v2.1M278.14 220.80v-2.1M278.14 22.00v2.1M282.91 220.80v-2.1M282.91 22.00v2.1M286.95 220.80v-2.1M286.95 22.00v2.1M290.44 220.80v-2.1M290.44 22.00v2.1M293.52 220.80v-2.1M293.52 22.00v2.1M314.42 220.80v-2.1M314.42 22.00v2.1M325.03 220.80v-2.1M325.03 22.00v2.1M57.80 219.27h2.1M456.30 219.27h-2.1M332.56 220.80v-2.1M332.56 22.00v2.1M57.80 213.78h2.1M456.30 213.78h-2.1M338.40 220.80v-2.1M338.40 22.00v2.1M57.80 209.52h2.1M456.30 209.52h-2.1M343.17 220.80v-2.1M343.17 22.00v2.1M57.80 206.05h2.1M456.30 206.05h-2.1M347.21 220.80v-2.1M347.21 22.00v2.1M57.80 203.10h2.1M456.30 203.10h-2.1M350.70 220.80v-2.1M350.70 22.00v2.1M57.80 200.56h2.1M456.30 200.56h-2.1M353.78 220.80v-2.1M353.78 22.00v2.1M57.80 198.31h2.1M456.30 198.31h-2.1M374.68 220.80v-2.1M374.68 22.00v2.1M57.80 183.08h2.1M456.30 183.08h-2.1M385.29 220.80v-2.1M385.29 22.00v2.1M57.80 175.34h2.1M456.30 175.34h-2.1M392.82 220.80v-2.1M392.82 22.00v2.1M57.80 169.85h2.1M456.30 169.85h-2.1M398.66 220.80v-2.1M398.66 22.00v2.1M57.80 165.59h2.1M456.30 165.59h-2.1M403.43 220.80v-2.1M403.43 22.00v2.1M57.80 162.12h2.1M456.30 162.12h-2.1M407.47 220.80v-2.1M407.47 22.00v2.1M57.80 159.17h2.1M456.30 159.17h-2.1M410.96 220.80v-2.1M410.96 22.00v2.1M57.80 156.63h2.1M456.30 156.63h-2.1M414.04 220.80v-2.1M414.04 22.00v2.1M57.80 154.38h2.1M456.30 154.38h-2.1M434.94 220.80v-2.1M434.94 22.00v2.1M57.80 139.15h2.1M456.30 139.15h-2.1M445.55 220.80v-2.1M445.55 22.00v2.1M57.80 131.41h2.1M456.30 131.41h-2.1M453.08 220.80v-2.1M453.08 22.00v2.1M57.80 125.92h2.1M456.30 125.92h-2.1M57.80 121.66h2.1M456.30 121.66h-2.1M57.80 118.19h2.1M456.30 118.19h-2.1M57.80 115.24h2.1M456.30 115.24h-2.1M57.80 112.70h2.1M456.30 112.70h-2.1M57.80 110.45h2.1M456.30 110.45h-2.1M57.80 95.22h2.1M456.30 95.22h-2.1M57.80 87.48h2.1M456.30 87.48h-2.1M57.80 81.99h2.1M456.30 81.99h-2.1M57.80 77.73h2.1M456.30 77.73h-2.1M57.80 74.26h2.1M456.30 74.26h-2.1M57.80 71.31h2.1M456.30 71.31h-2.1M57.80 68.77h2.1M456.30 68.77h-2.1M57.80 66.52h2.1M456.30 66.52h-2.1M57.80 51.29h2.1M456.30 51.29h-2.1M57.80 43.55h2.1M456.30 43.55h-2.1M57.80 38.06h2.1M456.30 38.06h-2.1M57.80 33.80h2.1M456.30 33.80h-2.1M57.80 30.33h2.1M456.30 30.33h-2.1M57.80 27.38h2.1M456.30 27.38h-2.1M57.80 24.84h2.1M456.30 24.84h-2.1M57.80 22.59h2.1M456.30 22.59h-2.1" stroke="#707070" stroke-width="0.5" fill="none"/>
<path d="M115.50 220.80v-3.9M115.50 22.00v3.9M175.76 220.80v-3.9M175.76 22.00v3.9M236.02 220.80v-3.9M236.02 22.00v3.9M296.28 220.80v-3.9M296.28 22.00v3.9M356.54 220.80v-3.9M356.54 22.00v3.9M57.80 196.30h3.9M456.30 196.30h-3.9M416.80 220.80v-3.9M416.80 22.00v3.9M57.80 152.37h3.9M456.30 152.37h-3.9M57.80 108.44h3.9M456.30 108.44h-3.9M57.80 64.51h3.9M456.30 64.51h-3.9" stroke="#707070" stroke-width="0.62" fill="none"/>
<rect x="57.80" y="22.00" width="398.50" height="198.80" fill="none" stroke="#383838" stroke-width="1.15"/>
<text x="55.60" y="70" font-size="14.0" text-anchor="end" fill="#1a1a1a" stroke="#1a1a1a" stroke-width="0.25" font-weight="normal" font-style="normal">1000</text>
<text x="55.60" y="113" font-size="14.0" text-anchor="end" fill="#1a1a1a" stroke="#1a1a1a" stroke-width="0.25" font-weight="normal" font-style="normal">100</text>
<text x="55.60" y="157" font-size="14.0" text-anchor="end" fill="#1a1a1a" stroke="#1a1a1a" stroke-width="0.25" font-weight="normal" font-style="normal">10</text>
<text x="55.60" y="201" font-size="14.0" text-anchor="end" fill="#1a1a1a" stroke="#1a1a1a" stroke-width="0.25" font-weight="normal" font-style="normal">1</text>
<text x="102.12" y="236" font-size="14.0" text-anchor="start" fill="#1a1a1a" stroke="#1a1a1a" stroke-width="0.25" font-weight="normal" font-style="normal">10</text>
<text x="117.98" y="230" font-size="10.0" text-anchor="start" fill="#1a1a1a" stroke="#1a1a1a" stroke-width="0.25" font-weight="normal" font-style="normal" letter-spacing="-0.5">−4</text>
<text x="162.38" y="236" font-size="14.0" text-anchor="start" fill="#1a1a1a" stroke="#1a1a1a" stroke-width="0.25" font-weight="normal" font-style="normal">10</text>
<text x="178.24" y="230" font-size="10.0" text-anchor="start" fill="#1a1a1a" stroke="#1a1a1a" stroke-width="0.25" font-weight="normal" font-style="normal" letter-spacing="-0.5">−3</text>
<text x="222.64" y="236" font-size="14.0" text-anchor="start" fill="#1a1a1a" stroke="#1a1a1a" stroke-width="0.25" font-weight="normal" font-style="normal">10</text>
<text x="238.50" y="230" font-size="10.0" text-anchor="start" fill="#1a1a1a" stroke="#1a1a1a" stroke-width="0.25" font-weight="normal" font-style="normal" letter-spacing="-0.5">−2</text>
<text x="296.28" y="236" font-size="14.0" text-anchor="middle" fill="#1a1a1a" stroke="#1a1a1a" stroke-width="0.25" font-weight="normal" font-style="normal">0.1</text>
<text x="356.54" y="236" font-size="14.0" text-anchor="middle" fill="#1a1a1a" stroke="#1a1a1a" stroke-width="0.25" font-weight="normal" font-style="normal">1</text>
<text x="416.80" y="236" font-size="14.0" text-anchor="middle" fill="#1a1a1a" stroke="#1a1a1a" stroke-width="0.25" font-weight="normal" font-style="normal">10</text>
<text x="421.00" y="48" font-size="9.5" text-anchor="middle" fill="#808000" stroke="#808000" stroke-width="0" font-weight="bold" font-style="normal">9</text>
<text x="416.35" y="85" font-size="9.5" text-anchor="middle" fill="#8c1a90" stroke="#8c1a90" stroke-width="0" font-weight="bold" font-style="normal">8</text>
<text x="422.60" y="95" font-size="9.5" text-anchor="middle" fill="#000" stroke="#000" stroke-width="0" font-weight="bold" font-style="normal">7</text>
<text x="422.70" y="106" font-size="9.5" text-anchor="middle" fill="#1a1aff" stroke="#1a1aff" stroke-width="0" font-weight="bold" font-style="normal">6</text>
<text x="422.60" y="115" font-size="9.5" text-anchor="middle" fill="#ff1aff" stroke="#ff1aff" stroke-width="0" font-weight="bold" font-style="normal">5</text>
<text x="412.70" y="128" font-size="9.5" text-anchor="middle" fill="#22e022" stroke="#22e022" stroke-width="0" font-weight="bold" font-style="normal">4</text>
<text x="423.45" y="136" font-size="9.5" text-anchor="middle" fill="#000" stroke="#000" stroke-width="0" font-weight="bold" font-style="normal">3</text>
<text x="415.50" y="151" font-size="9.5" text-anchor="middle" fill="#ff1a1a" stroke="#ff1a1a" stroke-width="0" font-weight="bold" font-style="normal">2</text>
<text x="424.00" y="198" font-size="9.5" text-anchor="middle" fill="#1e8c14" stroke="#1e8c14" stroke-width="0" font-weight="bold" font-style="normal">1</text>
<text x="226.00" y="17" font-size="14.0" text-anchor="start" fill="#1a1a1a" stroke="#1a1a1a" stroke-width="0.25" font-weight="normal" font-style="normal">(a)</text>
<text x="248.90" y="17" font-size="14.0" text-anchor="start" fill="#1a1a1a" stroke="#1a1a1a" stroke-width="0.25" font-weight="normal" font-style="italic">ω</text>
<text x="259.40" y="17" font-size="14.0" text-anchor="start" fill="#1a1a1a" stroke="#1a1a1a" stroke-width="0.25" font-weight="normal" font-style="normal">=</text>
<text x="268.50" y="17" font-size="14.0" text-anchor="start" fill="#1a1a1a" stroke="#1a1a1a" stroke-width="0.25" font-weight="normal" font-style="italic">ω</text>
<text x="280.00" y="19" font-size="10.3" text-anchor="start" fill="#1a1a1a" stroke="#1a1a1a" stroke-width="0.25" font-weight="normal" font-style="italic">m</text>
<text x="235.50" y="259" font-size="14.0" text-anchor="start" fill="#1a1a1a" stroke="#1a1a1a" stroke-width="0.25" font-weight="normal" font-style="normal">(g/</text>
<text x="251.90" y="259" font-size="14.0" text-anchor="start" fill="#1a1a1a" stroke="#1a1a1a" stroke-width="0.25" font-weight="normal" font-style="italic">g</text>
<text x="259.90" y="261" font-size="10.0" text-anchor="start" fill="#1a1a1a" stroke="#1a1a1a" stroke-width="0.25" font-weight="normal" font-style="normal">0</text>
<text x="266.10" y="259" font-size="14.0" text-anchor="start" fill="#1a1a1a" stroke="#1a1a1a" stroke-width="0.25" font-weight="normal" font-style="normal">)</text>
<text x="271.30" y="252" font-size="10.0" text-anchor="start" fill="#1a1a1a" stroke="#1a1a1a" stroke-width="0.25" font-weight="normal" font-style="normal">2</text>
<g transform="translate(17.00 140.00) rotate(-90)">
<text x="0.00" y="0" font-size="14.0" text-anchor="start" fill="#1a1a1a" stroke="#1a1a1a" stroke-width="0.25" font-weight="normal" font-style="italic">S</text>
<text x="8.60" y="3" font-size="10.0" text-anchor="start" fill="#1a1a1a" stroke="#1a1a1a" stroke-width="0.25" font-weight="normal" font-style="italic">F</text>
<text x="15.60" y="0" font-size="14.0" text-anchor="start" fill="#1a1a1a" stroke="#1a1a1a" stroke-width="0.25" font-weight="normal" font-style="normal">(</text>
<text x="22.50" y="0" font-size="14.0" text-anchor="start" fill="#1a1a1a" stroke="#1a1a1a" stroke-width="0.25" font-weight="normal" font-style="italic">ω</text>
<text x="32.60" y="0" font-size="14.0" text-anchor="start" fill="#1a1a1a" stroke="#1a1a1a" stroke-width="0.25" font-weight="normal" font-style="normal">)</text>
</g>
<path d="M99.43 374.55L100.76 375.36L102.08 376.17L103.41 376.98L104.73 377.79L106.06 378.60L107.39 379.41L108.71 380.22L110.04 381.03L111.36 381.84L112.69 382.65L114.02 383.46L115.34 384.27L116.67 385.08L117.99 385.89L119.32 386.70L120.64 387.51L121.97 388.31L123.30 389.12L124.62 389.93L125.95 390.74L127.27 391.55L128.60 392.36L129.93 393.16L131.25 393.97L132.58 394.78L133.90 395.58L135.23 396.39L136.56 397.20L137.88 398.00L139.21 398.81L140.53 399.61L141.86 400.41L143.19 401.21L144.51 402.02L145.84 402.82L147.16 403.61L148.49 404.41L149.82 405.21L151.14 406.00L152.47 406.80L153.79 407.59L155.12 408.38L156.45 409.16L157.77 409.95L159.10 410.73L160.42 411.50L161.75 412.28L163.08 413.05L164.40 413.81L165.73 414.57L167.05 415.33L168.38 416.07L169.71 416.82L171.03 417.55L172.36 418.27L173.68 418.99L175.01 419.70L176.34 420.39L177.66 421.08L178.99 421.75L180.31 422.40L181.64 423.04L182.97 423.66L184.29 424.27L185.62 424.85L186.94 425.41L188.27 425.95L189.60 426.47L190.92 426.95L192.25 427.41L193.57 427.84L194.90 428.23L196.23 428.59L197.55 428.91L198.88 429.20L200.20 429.45L201.53 429.65L202.86 429.82L204.18 429.94L205.51 430.02L206.83 430.06L208.16 430.05L209.49 430.00L210.81 429.90L212.14 429.77L213.46 429.59L214.79 429.37L216.12 429.11L217.44 428.81L218.77 428.47L220.09 428.10L221.42 427.70L222.75 427.26L224.07 426.79L225.40 426.30L226.72 425.78L228.05 425.23L229.38 424.66L230.70 424.07L232.03 423.46L233.35 422.83L234.68 422.19L236.00 421.53L237.33 420.85L238.66 420.16L239.98 419.47L241.31 418.76L242.63 418.04L243.96 417.31L245.29 416.57L246.61 415.83L247.94 415.08L249.26 414.32L250.59 413.56L251.92 412.79L253.24 412.02L254.57 411.25L255.89 410.47L257.22 409.69L258.55 408.90L259.87 408.12L261.20 407.33L262.52 406.53L263.85 405.74L265.18 404.95L266.50 404.15L267.83 403.35L269.15 402.55L270.48 401.75L271.81 400.95L273.13 400.15L274.46 399.34L275.78 398.54L277.11 397.74L278.44 396.93L279.76 396.12L281.09 395.32L282.41 394.51L283.74 393.70L285.07 392.90L286.39 392.09L287.72 391.28L289.04 390.47L290.37 389.66L291.70 388.86L293.02 388.05L294.35 387.24L295.67 386.43L297.00 385.62L298.33 384.81L299.65 384.00L300.98 383.19L302.30 382.38L303.63 381.57L304.96 380.76L306.28 379.95L307.61 379.14L308.93 378.33L310.26 377.52L311.59 376.71L312.91 375.90L314.24 375.09L315.56 374.28L316.89 373.47L318.22 372.66L319.54 371.85L320.87 371.04L322.19 370.23L323.52 369.42L324.85 368.61L326.17 367.80L327.50 366.99L328.82 366.18L330.15 365.37L331.48 364.56L332.80 363.75L334.13 362.94L335.45 362.13L336.78 361.32L338.11 360.51L339.43 359.70L340.76 358.89L342.08 358.08L343.41 357.26L344.74 356.45L346.06 355.64L347.39 354.83L348.71 354.02L350.04 353.21L351.36 352.40L352.69 351.59L354.02 350.78L355.34 349.97L356.67 349.16L357.99 348.35L359.32 347.54L360.65 346.73L361.97 345.92L363.30 345.11L364.62 344.30L365.95 343.49L367.28 342.68L368.60 341.87L369.93 341.06L371.25 340.25L372.58 339.44L373.91 338.63L375.23 337.82L376.56 337.00L377.88 336.19L379.21 335.38L380.54 334.57L381.86 333.76L383.19 332.95L384.51 332.14L385.84 331.33L387.17 330.52L388.49 329.71L389.82 328.90L391.14 328.09L392.47 327.28L393.80 326.47L395.12 325.66L396.45 324.85L397.77 324.04L399.10 323.23L400.43 322.42L401.75 321.61L403.08 320.80L404.40 319.99L405.73 319.18L407.06 318.36L408.38 317.55L409.71 316.74L411.03 315.93L412.36 315.12L413.69 314.31L415.01 313.50L416.34 312.69" fill="none" stroke="#a06530" stroke-width="1.6" stroke-linecap="round" stroke-linejoin="round"/>
<path d="M416.34 461.39L415.01 461.39L413.69 461.39L412.36 461.39L411.03 461.38L409.71 461.38L408.38 461.38L407.06 461.38L405.73 461.38L404.40 461.38L403.08 461.38L401.75 461.38L400.43 461.38L399.10 461.38L397.77 461.37L396.45 461.37L395.12 461.37L393.80 461.37L392.47 461.37L391.14 461.37L389.82 461.36L388.49 461.36L387.17 461.36L385.84 461.36L384.51 461.36L383.19 461.35L381.86 461.35L380.54 461.35L379.21 461.34L377.88 461.34L376.56 461.34L375.23 461.34L373.91 461.33L372.58 461.33L371.25 461.32L369.93 461.32L368.60 461.32L367.28 461.31L365.95 461.31L364.62 461.30L363.30 461.29L361.97 461.29L360.65 461.28L359.32 461.28L357.99 461.27L356.67 461.26L355.34 461.25L354.02 461.25L352.69 461.24L351.36 461.23L350.04 461.22L348.71 461.21L347.39 461.20L346.06 461.19L344.74 461.18L343.41 461.16L342.08 461.15L340.76 461.14L339.43 461.12L338.11 461.11L336.78 461.09L335.45 461.08L334.13 461.06L332.80 461.04L331.48 461.02L330.15 461.00L328.82 460.98L327.50 460.95L326.17 460.93L324.85 460.90L323.52 460.88L322.19 460.85L320.87 460.82L319.54 460.79L318.22 460.75L316.89 460.72L315.56 460.68L314.24 460.64L312.91 460.60L311.59 460.56L310.26 460.51L308.93 460.46L307.61 460.41L306.28 460.36L304.96 460.31L303.63 460.25L302.30 460.19L300.98 460.12L299.65 460.05L298.33 459.98L297.00 459.91L295.67 459.83L294.35 459.75L293.02 459.66L291.70 459.57L290.37 459.47L289.04 459.37L287.72 459.27L286.39 459.16L285.07 459.04L283.74 458.92L282.41 458.80L281.09 458.66L279.76 458.53L278.44 458.38L277.11 458.23L275.78 458.07L274.46 457.91L273.13 457.74L271.81 457.56L270.48 457.37L269.15 457.18L267.83 456.97L266.50 456.76L265.18 456.54L263.85 456.31L262.52 456.08L261.20 455.83L259.87 455.58L258.55 455.31L257.22 455.03L255.89 454.75L254.57 454.45L253.24 454.15L251.92 453.83L250.59 453.51L249.26 453.17L247.94 452.82L246.61 452.47L245.29 452.10L243.96 451.72L242.63 451.33L241.31 450.93L239.98 450.51L238.66 450.09L237.33 449.66L236.00 449.21L234.68 448.75L233.35 448.29L232.03 447.81L230.70 447.32L229.38 446.82L228.05 446.32L226.72 445.80L225.40 445.27L224.07 444.73L222.75 444.18L221.42 443.62L220.09 443.06L218.77 442.48L217.44 441.90L216.12 441.30L214.79 440.70L213.46 440.09L212.14 439.47L210.81 438.85L209.49 438.21L208.16 437.57L206.83 436.92L205.51 436.27L204.18 435.61L202.86 434.94L201.53 434.26L200.20 433.58L198.88 432.90L197.55 432.20L196.23 431.51L194.90 430.80L193.57 430.10L192.25 429.39L190.92 428.67L189.60 427.95L188.27 427.22L186.94 426.49L185.62 425.76L184.29 425.02L182.97 424.28L181.64 423.54L180.31 422.79L178.99 422.04L177.66 421.29L176.34 420.53L175.01 419.78L173.68 419.02L172.36 418.25L171.03 417.49L169.71 416.72L168.38 415.95L167.05 415.18L165.73 414.40L164.40 413.63L163.08 412.85L161.75 412.07L160.42 411.29L159.10 410.51L157.77 409.72L156.45 408.94L155.12 408.15L153.79 407.36L152.47 406.57L151.14 405.78L149.82 404.99L148.49 404.20L147.16 403.41L145.84 402.61L144.51 401.82L143.19 401.02L141.86 400.23L140.53 399.43L139.21 398.63L137.88 397.83L136.56 397.04L135.23 396.24L133.90 395.44L132.58 394.64L131.25 393.83L129.93 393.03L128.60 392.23L127.27 391.43L125.95 390.62L124.62 389.82L123.30 389.02L121.97 388.21L120.64 387.41L119.32 386.60L117.99 385.80L116.67 384.99L115.34 384.19L114.02 383.38L112.69 382.58L111.36 381.77L110.04 380.96L108.71 380.16L107.39 379.35L106.06 378.54L104.73 377.74L103.41 376.93L102.08 376.12L100.76 375.31L99.43 374.51" fill="none" stroke="#22a822" stroke-width="1.8" stroke-dasharray="1.8 1.8 1.8 1.8 6.6 1.8" stroke-linecap="butt" stroke-linejoin="round"/>
<path d="M99.43 374.51L100.76 375.31L102.08 376.12L103.41 376.93L104.73 377.74L106.06 378.54L107.39 379.35L108.71 380.16L110.04 380.96L111.36 381.77L112.69 382.58L114.02 383.38L115.34 384.19L116.67 384.99L117.99 385.80L119.32 386.60L120.64 387.41L121.97 388.21L123.30 389.02L124.62 389.82L125.95 390.62L127.27 391.43L128.60 392.23L129.93 393.03L131.25 393.83L132.58 394.64L133.90 395.44L135.23 396.24L136.56 397.04L137.88 397.83L139.21 398.63L140.53 399.43L141.86 400.23L143.19 401.02L144.51 401.82L145.84 402.61L147.16 403.41L148.49 404.20L149.82 404.99L151.14 405.78L152.47 406.57L153.79 407.36L155.12 408.15L156.45 408.94L157.77 409.72L159.10 410.51L160.42 411.29L161.75 412.07L163.08 412.85L164.40 413.63L165.73 414.40L167.05 415.18L168.38 415.95L169.71 416.72L171.03 417.49L172.36 418.25L173.68 419.01L175.01 419.78L176.34 420.53L177.66 421.29L178.99 422.04L180.31 422.79L181.64 423.54L182.97 424.28L184.29 425.02L185.62 425.76L186.94 426.49L188.27 427.22L189.60 427.95L190.92 428.67L192.25 429.39L193.57 430.10L194.90 430.80L196.23 431.51L197.55 432.20L198.88 432.90L200.20 433.58L201.53 434.26L202.86 434.94L204.18 435.60L205.51 436.27L206.83 436.92L208.16 437.57L209.49 438.21L210.81 438.84L212.14 439.47L213.46 440.09L214.79 440.70L216.12 441.30L217.44 441.89L218.77 442.48L220.09 443.05L221.42 443.62L222.75 444.18L224.07 444.72L225.40 445.26L226.72 445.79L228.05 446.31L229.38 446.81L230.70 447.31L232.03 447.80L233.35 448.28L234.68 448.74L236.00 449.20L237.33 449.64L238.66 450.07L239.98 450.50L241.31 450.91L242.63 451.31L243.96 451.70L245.29 452.07L246.61 452.44L247.94 452.80L249.26 453.14L250.59 453.47L251.92 453.80L253.24 454.11L254.57 454.41L255.89 454.71L257.22 454.99L258.55 455.26L259.87 455.52L261.20 455.77L262.52 456.01L263.85 456.25L265.18 456.47L266.50 456.68L267.83 456.89L269.15 457.09L270.48 457.28L271.81 457.46L273.13 457.63L274.46 457.79L275.78 457.95L277.11 458.10L278.44 458.24L279.76 458.38L281.09 458.50L282.41 458.63L283.74 458.74L285.07 458.85L286.39 458.95L287.72 459.05L289.04 459.14L290.37 459.23L291.70 459.31L293.02 459.38L294.35 459.45L295.67 459.52L297.00 459.58L298.33 459.63L299.65 459.68L300.98 459.73L302.30 459.77L303.63 459.81L304.96 459.84L306.28 459.87L307.61 459.89L308.93 459.91L310.26 459.93L311.59 459.94L312.91 459.95L314.24 459.95L315.56 459.95L316.89 459.95L318.22 459.94L319.54 459.92L320.87 459.91L322.19 459.89L323.52 459.86L324.85 459.83L326.17 459.80L327.50 459.76L328.82 459.72L330.15 459.67L331.48 459.62L332.80 459.57L334.13 459.51L335.45 459.44L336.78 459.37L338.11 459.30L339.43 459.21L340.76 459.13L342.08 459.04L343.41 458.94L344.74 458.83L346.06 458.72L347.39 458.61L348.71 458.49L350.04 458.36L351.36 458.22L352.69 458.08L354.02 457.93L355.34 457.77L356.67 457.60L357.99 457.43L359.32 457.25L360.65 457.06L361.97 456.86L363.30 456.65L364.62 456.44L365.95 456.21L367.28 455.98L368.60 455.73L369.93 455.48L371.25 455.22L372.58 454.94L373.91 454.66L375.23 454.37L376.56 454.06L377.88 453.75L379.21 453.42L380.54 453.09L381.86 452.74L383.19 452.38L384.51 452.02L385.84 451.64L387.17 451.25L388.49 450.84L389.82 450.43L391.14 450.01L392.47 449.57L393.80 449.13L395.12 448.67L396.45 448.20L397.77 447.73L399.10 447.24L400.43 446.74L401.75 446.23L403.08 445.71L404.40 445.18L405.73 444.64L407.06 444.09L408.38 443.53L409.71 442.96L411.03 442.39L412.36 441.80L413.69 441.21L415.01 440.60L416.34 439.99" fill="none" stroke="#1a1aff" stroke-width="1.8" stroke-dasharray="4.85 1.195" stroke-linecap="butt" stroke-linejoin="round"/>
<path d="M99.43 374.51L100.76 375.31L102.08 376.12L103.41 376.93L104.73 377.74L106.06 378.54L107.39 379.35L108.71 380.16L110.04 380.96L111.36 381.77L112.69 382.58L114.02 383.38L115.34 384.19L116.67 384.99L117.99 385.80L119.32 386.60L120.64 387.41L121.97 388.21L123.30 389.02L124.62 389.82L125.95 390.62L127.27 391.43L128.60 392.23L129.93 393.03L131.25 393.83L132.58 394.63L133.90 395.43L135.23 396.23L136.56 397.03L137.88 397.83L139.21 398.63L140.53 399.43L141.86 400.22L143.19 401.02L144.51 401.82L145.84 402.61L147.16 403.40L148.49 404.20L149.82 404.99L151.14 405.78L152.47 406.57L153.79 407.35L155.12 408.14L156.45 408.93L157.77 409.71L159.10 410.49L160.42 411.27L161.75 412.05L163.08 412.83L164.40 413.61L165.73 414.38L167.05 415.15L168.38 415.92L169.71 416.69L171.03 417.45L172.36 418.22L173.68 418.97L175.01 419.73L176.34 420.48L177.66 421.24L178.99 421.98L180.31 422.73L181.64 423.46L182.97 424.20L184.29 424.93L185.62 425.66L186.94 426.38L188.27 427.10L189.60 427.81L190.92 428.52L192.25 429.22L193.57 429.91L194.90 430.60L196.23 431.28L197.55 431.95L198.88 432.62L200.20 433.27L201.53 433.92L202.86 434.56L204.18 435.19L205.51 435.81L206.83 436.42L208.16 437.02L209.49 437.60L210.81 438.18L212.14 438.74L213.46 439.28L214.79 439.82L216.12 440.33L217.44 440.83L218.77 441.32L220.09 441.79L221.42 442.24L222.75 442.67L224.07 443.08L225.40 443.48L226.72 443.85L228.05 444.20L229.38 444.53L230.70 444.83L232.03 445.12L233.35 445.37L234.68 445.61L236.00 445.82L237.33 446.00L238.66 446.16L239.98 446.29L241.31 446.39L242.63 446.46L243.96 446.51L245.29 446.53L246.61 446.53L247.94 446.49L249.26 446.43L250.59 446.34L251.92 446.23L253.24 446.09L254.57 445.92L255.89 445.72L257.22 445.50L258.55 445.26L259.87 444.99L261.20 444.70L262.52 444.38L263.85 444.04L265.18 443.68L266.50 443.30L267.83 442.90L269.15 442.48L270.48 442.04L271.81 441.58L273.13 441.10L274.46 440.61L275.78 440.10L277.11 439.57L278.44 439.04L279.76 438.48L281.09 437.92L282.41 437.34L283.74 436.74L285.07 436.14L286.39 435.53L287.72 434.90L289.04 434.27L290.37 433.63L291.70 432.97L293.02 432.31L294.35 431.64L295.67 430.97L297.00 430.28L298.33 429.59L299.65 428.90L300.98 428.19L302.30 427.49L303.63 426.77L304.96 426.05L306.28 425.33L307.61 424.60L308.93 423.87L310.26 423.13L311.59 422.39L312.91 421.64L314.24 420.89L315.56 420.14L316.89 419.39L318.22 418.63L319.54 417.87L320.87 417.10L322.19 416.34L323.52 415.57L324.85 414.80L326.17 414.03L327.50 413.25L328.82 412.48L330.15 411.70L331.48 410.92L332.80 410.14L334.13 409.35L335.45 408.57L336.78 407.78L338.11 407.00L339.43 406.21L340.76 405.42L342.08 404.63L343.41 403.83L344.74 403.04L346.06 402.25L347.39 401.45L348.71 400.66L350.04 399.86L351.36 399.06L352.69 398.27L354.02 397.47L355.34 396.67L356.67 395.87L357.99 395.07L359.32 394.27L360.65 393.47L361.97 392.67L363.30 391.86L364.62 391.06L365.95 390.26L367.28 389.45L368.60 388.65L369.93 387.85L371.25 387.04L372.58 386.24L373.91 385.43L375.23 384.63L376.56 383.82L377.88 383.02L379.21 382.21L380.54 381.40L381.86 380.60L383.19 379.79L384.51 378.98L385.84 378.18L387.17 377.37L388.49 376.56L389.82 375.75L391.14 374.94L392.47 374.14L393.80 373.33L395.12 372.52L396.45 371.71L397.77 370.90L399.10 370.10L400.43 369.29L401.75 368.48L403.08 367.67L404.40 366.86L405.73 366.05L407.06 365.24L408.38 364.43L409.71 363.62L411.03 362.82L412.36 362.01L413.69 361.20L415.01 360.39L416.34 359.58" fill="none" stroke="#000" stroke-width="1.8" stroke-dasharray="4.85 1.195" stroke-linecap="butt" stroke-linejoin="round"/>
<path d="M99.43 374.51L100.76 375.31L102.08 376.12L103.41 376.93L104.73 377.74L106.06 378.54L107.39 379.35L108.71 380.16L110.04 380.96L111.36 381.77L112.69 382.58L114.02 383.38L115.34 384.19L116.67 384.99L117.99 385.80L119.32 386.60L120.64 387.41L121.97 388.21L123.30 389.02L124.62 389.82L125.95 390.62L127.27 391.43L128.60 392.23L129.93 393.03L131.25 393.83L132.58 394.63L133.90 395.43L135.23 396.23L136.56 397.03L137.88 397.83L139.21 398.63L140.53 399.43L141.86 400.22L143.19 401.02L144.51 401.82L145.84 402.61L147.16 403.40L148.49 404.20L149.82 404.99L151.14 405.78L152.47 406.57L153.79 407.36L155.12 408.14L156.45 408.93L157.77 409.71L159.10 410.50L160.42 411.28L161.75 412.06L163.08 412.83L164.40 413.61L165.73 414.38L167.05 415.16L168.38 415.93L169.71 416.69L171.03 417.46L172.36 418.22L173.68 418.98L175.01 419.74L176.34 420.49L177.66 421.25L178.99 421.99L180.31 422.74L181.64 423.48L182.97 424.22L184.29 424.95L185.62 425.68L186.94 426.40L188.27 427.12L189.60 427.83L190.92 428.54L192.25 429.25L193.57 429.94L194.90 430.64L196.23 431.32L197.55 432.00L198.88 432.67L200.20 433.33L201.53 433.98L202.86 434.63L204.18 435.27L205.51 435.89L206.83 436.51L208.16 437.12L209.49 437.71L210.81 438.30L212.14 438.87L213.46 439.43L214.79 439.98L216.12 440.51L217.44 441.03L218.77 441.53L220.09 442.02L221.42 442.49L222.75 442.94L224.07 443.38L225.40 443.80L226.72 444.19L228.05 444.57L229.38 444.93L230.70 445.27L232.03 445.58L233.35 445.88L234.68 446.15L236.00 446.39L237.33 446.62L238.66 446.81L239.98 446.99L241.31 447.14L242.63 447.26L243.96 447.36L245.29 447.43L246.61 447.47L247.94 447.49L249.26 447.48L250.59 447.45L251.92 447.38L253.24 447.30L254.57 447.18L255.89 447.05L257.22 446.88L258.55 446.69L259.87 446.48L261.20 446.24L262.52 445.98L263.85 445.69L265.18 445.39L266.50 445.06L267.83 444.71L269.15 444.33L270.48 443.94L271.81 443.53L273.13 443.10L274.46 442.66L275.78 442.19L277.11 441.71L278.44 441.21L279.76 440.70L281.09 440.17L282.41 439.63L283.74 439.08L285.07 438.51L286.39 437.93L287.72 437.34L289.04 436.73L290.37 436.12L291.70 435.50L293.02 434.86L294.35 434.22L295.67 433.57L297.00 432.91L298.33 432.24L299.65 431.57L300.98 430.89L302.30 430.20L303.63 429.50L304.96 428.80L306.28 428.09L307.61 427.38L308.93 426.66L310.26 425.94L311.59 425.22L312.91 424.48L314.24 423.75L315.56 423.01L316.89 422.27L318.22 421.52L319.54 420.77L320.87 420.02L322.19 419.26L323.52 418.50L324.85 417.74L326.17 416.97L327.50 416.21L328.82 415.44L330.15 414.67L331.48 413.89L332.80 413.12L334.13 412.34L335.45 411.56L336.78 410.78L338.11 410.00L339.43 409.21L340.76 408.43L342.08 407.64L343.41 406.86L344.74 406.07L346.06 405.28L347.39 404.49L348.71 403.69L350.04 402.90L351.36 402.11L352.69 401.31L354.02 400.52L355.34 399.72L356.67 398.92L357.99 398.12L359.32 397.33L360.65 396.53L361.97 395.73L363.30 394.93L364.62 394.13L365.95 393.32L367.28 392.52L368.60 391.72L369.93 390.92L371.25 390.11L372.58 389.31L373.91 388.51L375.23 387.70L376.56 386.90L377.88 386.09L379.21 385.29L380.54 384.48L381.86 383.68L383.19 382.87L384.51 382.06L385.84 381.26L387.17 380.45L388.49 379.65L389.82 378.84L391.14 378.03L392.47 377.22L393.80 376.42L395.12 375.61L396.45 374.80L397.77 373.99L399.10 373.18L400.43 372.38L401.75 371.57L403.08 370.76L404.40 369.95L405.73 369.14L407.06 368.33L408.38 367.52L409.71 366.72L411.03 365.91L412.36 365.10L413.69 364.29L415.01 363.48L416.34 362.67" fill="none" stroke="#ff1a1a" stroke-width="1.8" stroke-dasharray="4.85 1.195" stroke-linecap="butt" stroke-linejoin="round"/>
<path d="M65.37 485.80v-2.1M65.37 288.50v2.1M69.85 485.80v-2.1M69.85 288.50v2.1M73.64 485.80v-2.1M73.64 288.50v2.1M76.92 485.80v-2.1M76.92 288.50v2.1M79.81 485.80v-2.1M79.81 288.50v2.1M99.43 485.80v-2.1M99.43 288.50v2.1M109.39 485.80v-2.1M109.39 288.50v2.1M116.46 485.80v-2.1M116.46 288.50v2.1M121.94 485.80v-2.1M121.94 288.50v2.1M126.42 485.80v-2.1M126.42 288.50v2.1M130.21 485.80v-2.1M130.21 288.50v2.1M133.49 485.80v-2.1M133.49 288.50v2.1M136.38 485.80v-2.1M136.38 288.50v2.1M156.00 485.80v-2.1M156.00 288.50v2.1M165.96 485.80v-2.1M165.96 288.50v2.1M173.03 485.80v-2.1M173.03 288.50v2.1M178.51 485.80v-2.1M178.51 288.50v2.1M182.99 485.80v-2.1M182.99 288.50v2.1M186.78 485.80v-2.1M186.78 288.50v2.1M190.06 485.80v-2.1M190.06 288.50v2.1M192.95 485.80v-2.1M192.95 288.50v2.1M212.57 485.80v-2.1M212.57 288.50v2.1M222.53 485.80v-2.1M222.53 288.50v2.1M229.60 485.80v-2.1M229.60 288.50v2.1M235.08 485.80v-2.1M235.08 288.50v2.1M239.56 485.80v-2.1M239.56 288.50v2.1M243.35 485.80v-2.1M243.35 288.50v2.1M246.63 485.80v-2.1M246.63 288.50v2.1M249.52 485.80v-2.1M249.52 288.50v2.1M269.14 485.80v-2.1M269.14 288.50v2.1M60.45 485.57h2.1M456.00 485.57h-2.1M279.10 485.80v-2.1M279.10 288.50v2.1M60.45 479.48h2.1M456.00 479.48h-2.1M286.17 485.80v-2.1M286.17 288.50v2.1M60.45 475.16h2.1M456.00 475.16h-2.1M291.65 485.80v-2.1M291.65 288.50v2.1M60.45 471.81h2.1M456.00 471.81h-2.1M296.13 485.80v-2.1M296.13 288.50v2.1M60.45 469.07h2.1M456.00 469.07h-2.1M299.92 485.80v-2.1M299.92 288.50v2.1M60.45 466.76h2.1M456.00 466.76h-2.1M303.20 485.80v-2.1M303.20 288.50v2.1M60.45 464.75h2.1M456.00 464.75h-2.1M306.09 485.80v-2.1M306.09 288.50v2.1M60.45 462.98h2.1M456.00 462.98h-2.1M325.71 485.80v-2.1M325.71 288.50v2.1M60.45 450.99h2.1M456.00 450.99h-2.1M335.67 485.80v-2.1M335.67 288.50v2.1M60.45 444.90h2.1M456.00 444.90h-2.1M342.74 485.80v-2.1M342.74 288.50v2.1M60.45 440.58h2.1M456.00 440.58h-2.1M348.22 485.80v-2.1M348.22 288.50v2.1M60.45 437.23h2.1M456.00 437.23h-2.1M352.70 485.80v-2.1M352.70 288.50v2.1M60.45 434.50h2.1M456.00 434.50h-2.1M356.49 485.80v-2.1M356.49 288.50v2.1M60.45 432.18h2.1M456.00 432.18h-2.1M359.77 485.80v-2.1M359.77 288.50v2.1M60.45 430.18h2.1M456.00 430.18h-2.1M362.66 485.80v-2.1M362.66 288.50v2.1M60.45 428.41h2.1M456.00 428.41h-2.1M382.28 485.80v-2.1M382.28 288.50v2.1M60.45 416.42h2.1M456.00 416.42h-2.1M392.24 485.80v-2.1M392.24 288.50v2.1M60.45 410.33h2.1M456.00 410.33h-2.1M399.31 485.80v-2.1M399.31 288.50v2.1M60.45 406.01h2.1M456.00 406.01h-2.1M404.79 485.80v-2.1M404.79 288.50v2.1M60.45 402.66h2.1M456.00 402.66h-2.1M409.27 485.80v-2.1M409.27 288.50v2.1M60.45 399.92h2.1M456.00 399.92h-2.1M413.06 485.80v-2.1M413.06 288.50v2.1M60.45 397.61h2.1M456.00 397.61h-2.1M416.34 485.80v-2.1M416.34 288.50v2.1M60.45 395.60h2.1M456.00 395.60h-2.1M419.23 485.80v-2.1M419.23 288.50v2.1M60.45 393.83h2.1M456.00 393.83h-2.1M438.85 485.80v-2.1M438.85 288.50v2.1M60.45 381.84h2.1M456.00 381.84h-2.1M448.81 485.80v-2.1M448.81 288.50v2.1M60.45 375.75h2.1M456.00 375.75h-2.1M455.88 485.80v-2.1M455.88 288.50v2.1M60.45 371.43h2.1M456.00 371.43h-2.1M60.45 368.08h2.1M456.00 368.08h-2.1M60.45 365.35h2.1M456.00 365.35h-2.1M60.45 363.03h2.1M456.00 363.03h-2.1M60.45 361.03h2.1M456.00 361.03h-2.1M60.45 359.26h2.1M456.00 359.26h-2.1M60.45 347.27h2.1M456.00 347.27h-2.1M60.45 341.18h2.1M456.00 341.18h-2.1M60.45 336.86h2.1M456.00 336.86h-2.1M60.45 333.51h2.1M456.00 333.51h-2.1M60.45 330.77h2.1M456.00 330.77h-2.1M60.45 328.46h2.1M456.00 328.46h-2.1M60.45 326.45h2.1M456.00 326.45h-2.1M60.45 324.68h2.1M456.00 324.68h-2.1M60.45 312.69h2.1M456.00 312.69h-2.1M60.45 306.60h2.1M456.00 306.60h-2.1M60.45 302.28h2.1M456.00 302.28h-2.1M60.45 298.93h2.1M456.00 298.93h-2.1M60.45 296.20h2.1M456.00 296.20h-2.1M60.45 293.88h2.1M456.00 293.88h-2.1M60.45 291.88h2.1M456.00 291.88h-2.1M60.45 290.11h2.1M456.00 290.11h-2.1" stroke="#707070" stroke-width="0.5" fill="none"/>
<path d="M82.40 485.80v-3.9M82.40 288.50v3.9M138.97 485.80v-3.9M138.97 288.50v3.9M195.54 485.80v-3.9M195.54 288.50v3.9M252.11 485.80v-3.9M252.11 288.50v3.9M308.68 485.80v-3.9M308.68 288.50v3.9M60.45 461.40h3.9M456.00 461.40h-3.9M365.25 485.80v-3.9M365.25 288.50v3.9M60.45 426.82h3.9M456.00 426.82h-3.9M421.82 485.80v-3.9M421.82 288.50v3.9M60.45 392.25h3.9M456.00 392.25h-3.9M60.45 357.67h3.9M456.00 357.67h-3.9M60.45 323.10h3.9M456.00 323.10h-3.9M60.45 288.52h3.9M456.00 288.52h-3.9" stroke="#707070" stroke-width="0.62" fill="none"/>
<rect x="60.45" y="288.50" width="395.55" height="197.30" fill="none" stroke="#383838" stroke-width="1.15"/>
<text x="35.08" y="294" font-size="14.6" text-anchor="start" fill="#1a1a1a" stroke="#1a1a1a" stroke-width="0.25" font-weight="normal" font-style="normal">10</text>
<text x="51.62" y="288" font-size="10.4" text-anchor="start" fill="#1a1a1a" stroke="#1a1a1a" stroke-width="0.25" font-weight="normal" font-style="normal" letter-spacing="-0.5">5</text>
<text x="35.08" y="329" font-size="14.6" text-anchor="start" fill="#1a1a1a" stroke="#1a1a1a" stroke-width="0.25" font-weight="normal" font-style="normal">10</text>
<text x="51.62" y="323" font-size="10.4" text-anchor="start" fill="#1a1a1a" stroke="#1a1a1a" stroke-width="0.25" font-weight="normal" font-style="normal" letter-spacing="-0.5">4</text>
<text x="58.30" y="364" font-size="14.6" text-anchor="end" fill="#1a1a1a" stroke="#1a1a1a" stroke-width="0.25" font-weight="normal" font-style="normal">1000</text>
<text x="58.30" y="398" font-size="14.6" text-anchor="end" fill="#1a1a1a" stroke="#1a1a1a" stroke-width="0.25" font-weight="normal" font-style="normal">100</text>
<text x="58.30" y="433" font-size="14.6" text-anchor="end" fill="#1a1a1a" stroke="#1a1a1a" stroke-width="0.25" font-weight="normal" font-style="normal">10</text>
<text x="58.30" y="467" font-size="14.6" text-anchor="end" fill="#1a1a1a" stroke="#1a1a1a" stroke-width="0.25" font-weight="normal" font-style="normal">1</text>
<text x="68.45" y="503" font-size="14.6" text-anchor="start" fill="#1a1a1a" stroke="#1a1a1a" stroke-width="0.25" font-weight="normal" font-style="normal">10</text>
<text x="84.99" y="497" font-size="10.4" text-anchor="start" fill="#1a1a1a" stroke="#1a1a1a" stroke-width="0.25" font-weight="normal" font-style="normal" letter-spacing="-0.5">−4</text>
<text x="125.02" y="503" font-size="14.6" text-anchor="start" fill="#1a1a1a" stroke="#1a1a1a" stroke-width="0.25" font-weight="normal" font-style="normal">10</text>
<text x="141.56" y="497" font-size="10.4" text-anchor="start" fill="#1a1a1a" stroke="#1a1a1a" stroke-width="0.25" font-weight="normal" font-style="normal" letter-spacing="-0.5">−3</text>
<text x="181.59" y="503" font-size="14.6" text-anchor="start" fill="#1a1a1a" stroke="#1a1a1a" stroke-width="0.25" font-weight="normal" font-style="normal">10</text>
<text x="198.13" y="497" font-size="10.4" text-anchor="start" fill="#1a1a1a" stroke="#1a1a1a" stroke-width="0.25" font-weight="normal" font-style="normal" letter-spacing="-0.5">−2</text>
<text x="252.11" y="503" font-size="14.6" text-anchor="middle" fill="#1a1a1a" stroke="#1a1a1a" stroke-width="0.25" font-weight="normal" font-style="normal">0.1</text>
<text x="308.68" y="503" font-size="14.6" text-anchor="middle" fill="#1a1a1a" stroke="#1a1a1a" stroke-width="0.25" font-weight="normal" font-style="normal">1</text>
<text x="365.25" y="503" font-size="14.6" text-anchor="middle" fill="#1a1a1a" stroke="#1a1a1a" stroke-width="0.25" font-weight="normal" font-style="normal">10</text>
<text x="421.82" y="503" font-size="14.6" text-anchor="middle" fill="#1a1a1a" stroke="#1a1a1a" stroke-width="0.25" font-weight="normal" font-style="normal">100</text>
<text x="422.30" y="316" font-size="10.8" text-anchor="middle" fill="#808000" stroke="#808000" stroke-width="0" font-weight="bold" font-style="normal">5</text>
<text x="413.20" y="357" font-size="10.8" text-anchor="middle" fill="#000" stroke="#000" stroke-width="0" font-weight="bold" font-style="normal">4</text>
<text x="416.50" y="378" font-size="10.8" text-anchor="middle" fill="#ff1a1a" stroke="#ff1a1a" stroke-width="0" font-weight="bold" font-style="normal">3</text>
<text x="426.20" y="443" font-size="10.8" text-anchor="middle" fill="#1a1aff" stroke="#1a1aff" stroke-width="0" font-weight="bold" font-style="normal">2</text>
<text x="425.60" y="464" font-size="10.8" text-anchor="middle" fill="#1e8c14" stroke="#1e8c14" stroke-width="0" font-weight="bold" font-style="normal">1</text>
<text x="208.60" y="278" font-size="14.6" text-anchor="start" fill="#1a1a1a" stroke="#1a1a1a" stroke-width="0.25" font-weight="normal" font-style="normal">(b)</text>
<text x="232.00" y="278" font-size="14.6" text-anchor="start" fill="#1a1a1a" stroke="#1a1a1a" stroke-width="0.25" font-weight="normal" font-style="italic">ω</text>
<text x="243.00" y="278" font-size="14.6" text-anchor="start" fill="#1a1a1a" stroke="#1a1a1a" stroke-width="0.25" font-weight="normal" font-style="normal">=</text>
<text x="251.60" y="278" font-size="14.6" text-anchor="start" fill="#1a1a1a" stroke="#1a1a1a" stroke-width="0.25" font-weight="normal" font-style="italic">ω</text>
<text x="264.20" y="280" font-size="10.3" text-anchor="start" fill="#1a1a1a" stroke="#1a1a1a" stroke-width="0.25" font-weight="normal" font-style="italic">m</text>
<text x="273.80" y="278" font-size="14.6" text-anchor="start" fill="#1a1a1a" stroke="#1a1a1a" stroke-width="0.25" font-weight="normal" font-style="normal">+4</text>
<text x="290.60" y="278" font-size="14.6" text-anchor="start" fill="#1a1a1a" stroke="#1a1a1a" stroke-width="0.25" font-weight="normal" font-style="italic">γ</text>
<text x="298.40" y="280" font-size="10.3" text-anchor="start" fill="#1a1a1a" stroke="#1a1a1a" stroke-width="0.25" font-weight="normal" font-style="italic">m</text>
<text x="235.80" y="525" font-size="14.6" text-anchor="start" fill="#1a1a1a" stroke="#1a1a1a" stroke-width="0.25" font-weight="normal" font-style="normal">(g/</text>
<text x="252.97" y="525" font-size="14.6" text-anchor="start" fill="#1a1a1a" stroke="#1a1a1a" stroke-width="0.25" font-weight="normal" font-style="italic">g</text>
<text x="261.35" y="527" font-size="10.4" text-anchor="start" fill="#1a1a1a" stroke="#1a1a1a" stroke-width="0.25" font-weight="normal" font-style="normal">0</text>
<text x="267.84" y="525" font-size="14.6" text-anchor="start" fill="#1a1a1a" stroke="#1a1a1a" stroke-width="0.25" font-weight="normal" font-style="normal">)</text>
<text x="273.28" y="518" font-size="10.4" text-anchor="start" fill="#1a1a1a" stroke="#1a1a1a" stroke-width="0.25" font-weight="normal" font-style="normal">2</text>
<g transform="translate(18.00 407.10) rotate(-90)">
<text x="0.00" y="0" font-size="14.6" text-anchor="start" fill="#1a1a1a" stroke="#1a1a1a" stroke-width="0.25" font-weight="normal" font-style="italic">S</text>
<text x="9.70" y="3" font-size="10.4" text-anchor="start" fill="#1a1a1a" stroke="#1a1a1a" stroke-width="0.25" font-weight="normal" font-style="italic">F</text>
<text x="17.40" y="0" font-size="14.6" text-anchor="start" fill="#1a1a1a" stroke="#1a1a1a" stroke-width="0.25" font-weight="normal" font-style="normal">(</text>
<text x="24.50" y="0" font-size="14.6" text-anchor="start" fill="#1a1a1a" stroke="#1a1a1a" stroke-width="0.25" font-weight="normal" font-style="italic">ω</text>
<text x="34.50" y="0" font-size="14.6" text-anchor="start" fill="#1a1a1a" stroke="#1a1a1a" stroke-width="0.25" font-weight="normal" font-style="normal">)</text>
</g>
</svg>
</body></html>
